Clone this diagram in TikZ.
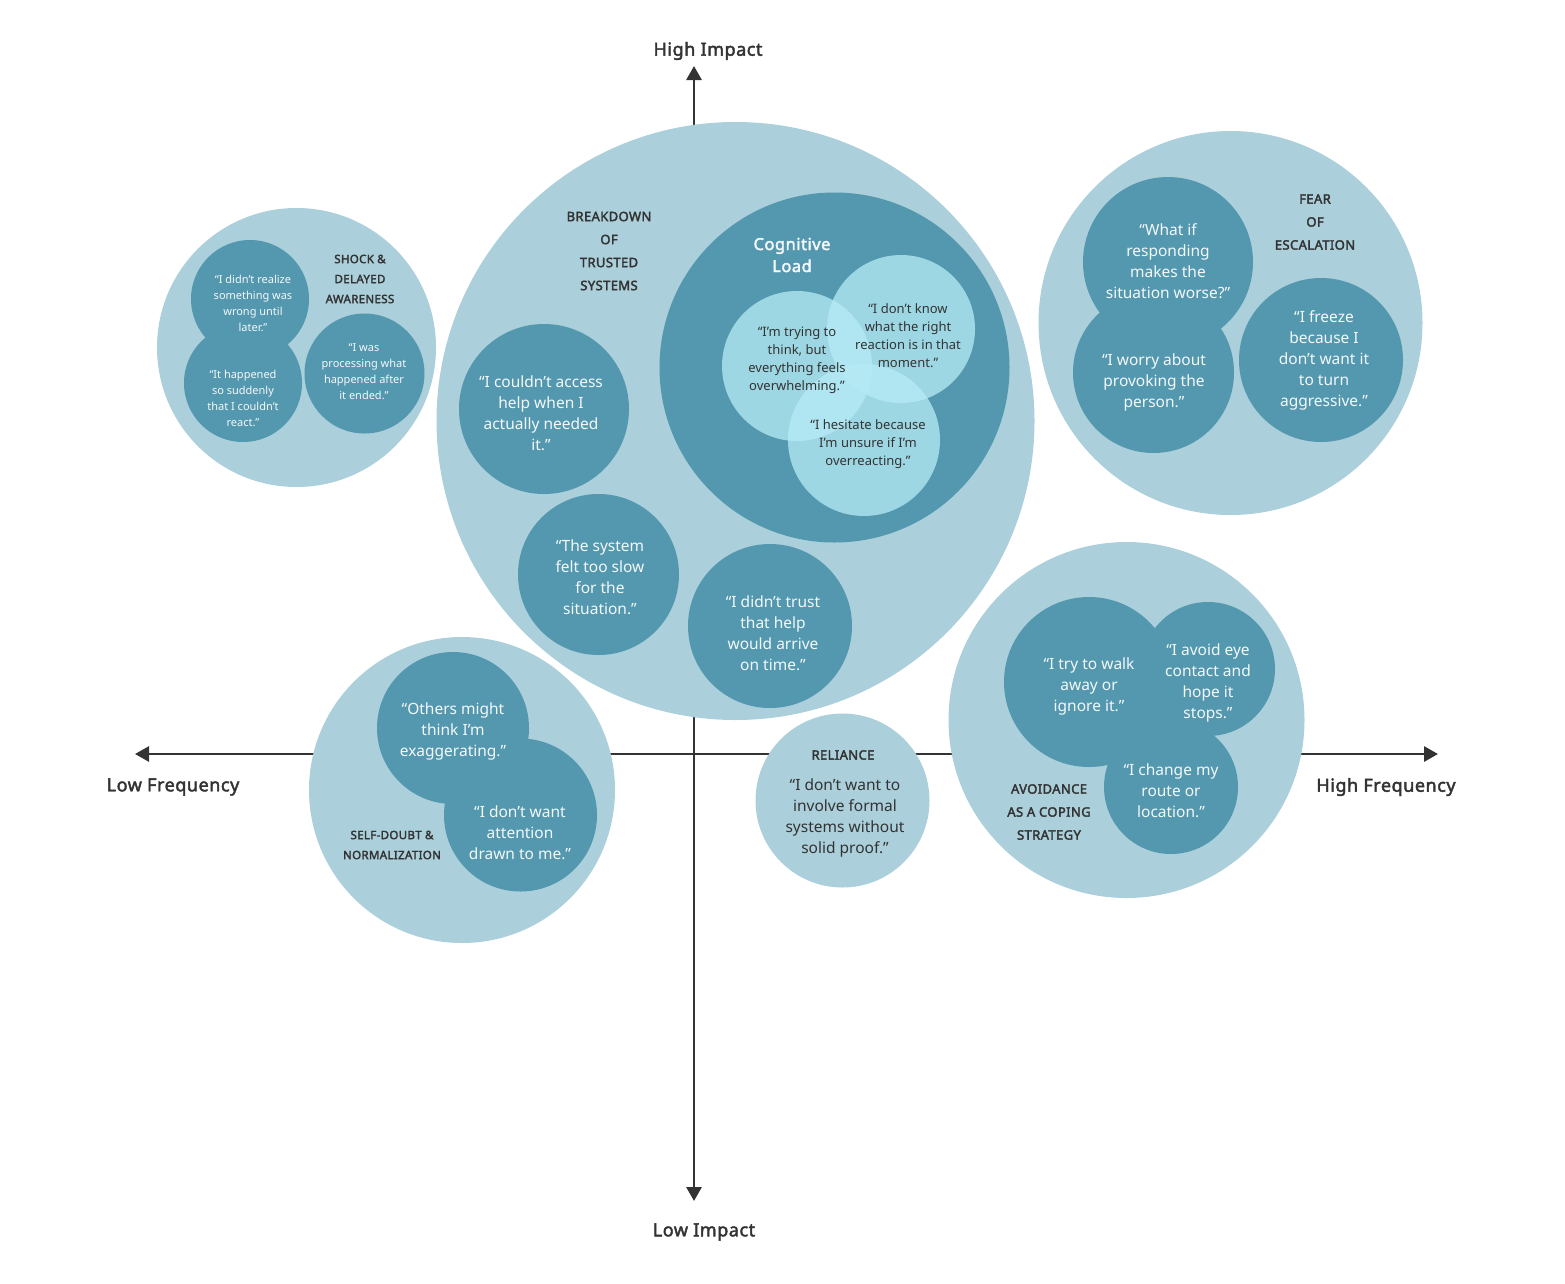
\documentclass[tikz,border=0pt]{standalone}
\usepackage{fontspec}
\setmainfont{Noto Sans}
\newfontfamily\labelfont{Noto Sans}[FakeBold=2.4,LetterSpace=3]
\usetikzlibrary{arrows.meta}
\definecolor{outerc}{HTML}{ABCFDB}
\definecolor{innerc}{HTML}{5398AE}
\definecolor{vennc}{RGB}{182,235,246}
\definecolor{ink}{HTML}{333333}
\definecolor{qwhite}{HTML}{F4F8FA}
\begin{document}
\begin{tikzpicture}[x=1pt,y=-1pt,
  outer/.style={circle,fill=outerc,inner sep=0pt,minimum size=#1},
  inner/.style={circle,fill=innerc,inner sep=0pt,minimum size=#1},
  venn/.style={circle,fill=vennc,fill opacity=0.76,inner sep=0pt,minimum size=#1},
  quote/.style={align=center,text=qwhite,inner sep=0pt,font=\fontsize{15.5}{21}\selectfont},
  smallquote/.style={align=center,text=qwhite,inner sep=0pt,font=\fontsize{11}{16}\selectfont},
  vennquote/.style={align=center,text=ink,inner sep=0pt,font=\fontsize{13}{18}\selectfont},
  darkquote/.style={align=center,text=ink,inner sep=0pt,font=\fontsize{15.5}{21}\selectfont},
  cat/.style={align=center,text=ink,inner sep=0pt,font=\labelfont\fontsize{13}{23}\selectfont},
  smallcat/.style={align=center,text=ink,inner sep=0pt,font=\labelfont\fontsize{11.5}{20}\selectfont},
  axislabel/.style={text=ink,inner sep=0pt,font=\labelfont\fontsize{18}{22}\selectfont},
  axisline/.style={line width=2.8pt,draw=ink,{Triangle[length=14pt,width=15pt]}-{Triangle[length=14pt,width=15pt]}}
]
\useasboundingbox (0,0) rectangle (1565,1283);

% axes
\coordinate (ytop) at (694,66);
\coordinate (ybot) at (694,1201);
\coordinate (xl) at (135,754);
\coordinate (xr) at (1438,754);
\draw[axisline] (ytop) -- (ybot);
\draw[axisline] (xl) -- (xr);
\node[axislabel] (hi) at (708,51) {High Impact};
\node[axislabel] (lo) at (704,1232) {Low Impact};
\node[axislabel] (lf) at (173,787) {Low Frequency};
\node[axislabel] (hf) at (1386,787) {High Frequency};

% shock cluster
\node[outer=279pt] (shock) at (296.5,347.5) {};
\node[inner=118pt] (s1) at (250,299) {};
\node[inner=118pt] (s2) at (243,383) {};
\node[inner=120pt] (s3) at (364.5,373.5) {};
\node[smallquote] at (253,303) {“I didn’t realize\\something was\\wrong until\\later.”};
\node[smallquote] at (243,398) {“It happened\\so suddenly\\that I couldn’t\\react.”};
\node[smallquote] at (364,372) {“I was\\processing what\\happened after\\it ended.”};
\node[smallcat] at (360,279) {SHOCK \&\\DELAYED\\AWARENESS};

% breakdown cluster
\node[outer=598pt] (brk) at (735.5,421) {};
\node[inner=350pt] (cog) at (834.5,367.5) {};
\node[inner=170pt] (b1) at (544,409) {};
\node[inner=161pt] (b2) at (598.5,574.5) {};
\node[inner=164pt] (b3) at (770,626) {};
\node[venn=150pt] (v1) at (797,366) {};
\node[venn=148pt] (v2) at (901,329) {};
\node[venn=152pt] (v3) at (864,440) {};
\node[cat] at (609,251) {BREAKDOWN\\OF\\TRUSTED\\SYSTEMS};
\node[align=center,text=qwhite,inner sep=0pt,font=\labelfont\fontsize{16.5}{22}\selectfont] at (792,255) {Cognitive\\Load};
\node[quote] at (541,413) {“I couldn’t access\\help when I\\actually needed\\it.”};
\node[quote] at (600,577) {“The system\\felt too slow\\for the\\situation.”};
\node[quote] at (773,633) {“I didn’t trust\\that help\\would arrive\\on time.”};
\node[vennquote] at (797,360) {“I’m trying to\\think, but\\everything feels\\overwhelming.”};
\node[vennquote] at (908,336) {“I don’t know\\what the right\\reaction is in that\\moment.”};
\node[vennquote] at (868,444) {“I hesitate because\\I’m unsure if I’m\\overreacting.”};

% fear cluster
\node[outer=384pt] (fear) at (1230.5,323) {};
\node[inner=170pt] (f1) at (1168,262) {};
\node[inner=161pt] (f2) at (1153.5,372.5) {};
\node[inner=164pt] (f3) at (1321,360) {};
\node[cat] at (1315,222) {FEAR\\OF\\ESCALATION};
\node[quote] at (1168,261) {“What if\\responding\\makes the\\situation worse?”};
\node[quote] at (1154,382) {“I worry about\\provoking the\\person.”};
\node[quote] at (1324,360) {“I freeze\\because I\\don’t want it\\to turn\\aggressive.”};

% avoidance cluster
\node[outer=356pt] (avoid) at (1126.5,720) {};
\node[inner=170pt] (a1) at (1089,682) {};
\node[inner=134pt] (a2) at (1208,669) {};
\node[inner=134pt] (a3) at (1171,787) {};
\node[cat] at (1049,812) {AVOIDANCE\\AS A COPING\\STRATEGY};
\node[quote] at (1089,686) {“I try to walk\\away or\\ignore it.”};
\node[quote] at (1208,683) {“I avoid eye\\contact and\\hope it\\stops.”};
\node[quote] at (1171,791) {“I change my\\route or\\location.”};

% self-doubt cluster
\node[outer=306pt] (self) at (462,790) {};
\node[inner=152pt] (d1) at (453,728) {};
\node[inner=153pt] (d2) at (520.5,815) {};
\node[smallcat] at (392,845) {SELF-DOUBT \&\\NORMALIZATION};
\node[quote] at (453,731) {“Others might\\think I’m\\exaggerating.”};
\node[quote] at (520,833) {“I don’t want\\attention\\drawn to me.”};

% reliance
\node[outer=174pt] (rel) at (842.5,800.5) {};
\node[cat] at (843,755) {RELIANCE};
\node[darkquote] at (845,818) {“I don’t want to\\involve formal\\systems without\\solid proof.”};
\end{tikzpicture}
\end{document}
